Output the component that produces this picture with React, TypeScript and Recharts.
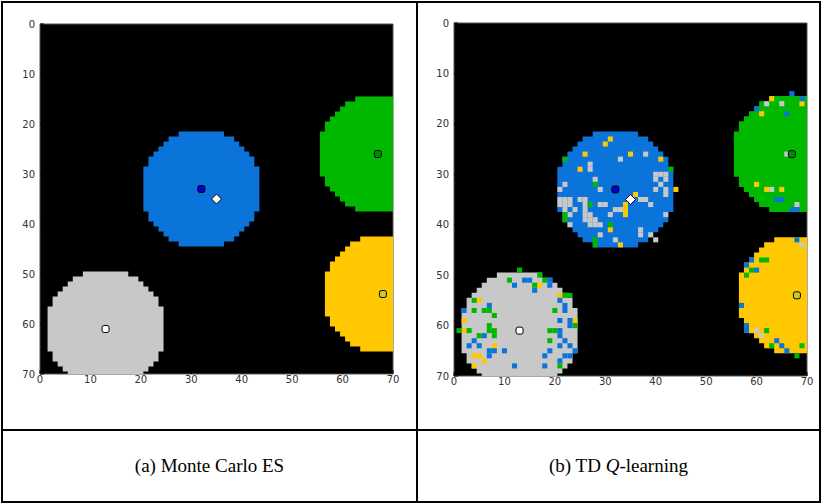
import React from 'react';
import { ScatterChart, Scatter, XAxis, YAxis, ReferenceArea } from 'recharts';

// axis ticks, shared by both panels
const TICKS = [0, 10, 20, 30, 40, 50, 60, 70];

// goal regions: centre cell and radius (grid units)
const REGIONS = [
  { name: 'blue', x: 32, y: 33 },
  { name: 'green', x: 67, y: 26 },
  { name: 'yellow', x: 68, y: 54 },
  { name: 'gray', x: 13, y: 61 },
];
const REGION_RADIUS = 11.8;

// goal markers and agent position
const GOALS = [
  { name: 'blue', x: 32, y: 33 },
  { name: 'green', x: 67, y: 26 },
  { name: 'yellow', x: 68, y: 54 },
  { name: 'gray', x: 13, y: 61 },
];
const AGENT = [{ x: 35, y: 35 }];

// TD Q-learning: misclassified cells, by the colour they got
const NOISE_GRAY = [
  [33, 27], [38, 26], [27, 28], [27, 29], [28, 31], [29, 33], [40, 30], [41, 30], [42, 30], [40, 31],
  [42, 31], [41, 32], [40, 33], [42, 33], [42, 34], [22, 32], [21, 33], [21, 35], [22, 35], [23, 35],
  [25, 35], [26, 35], [21, 36], [22, 36], [23, 36], [26, 36], [29, 36], [30, 36], [22, 37], [24, 37],
  [26, 37], [23, 38], [26, 38], [27, 38], [26, 39], [27, 39], [28, 39], [23, 40], [27, 40], [28, 40],
  [29, 40], [37, 35], [38, 35], [39, 36], [31, 38], [32, 37], [33, 37], [42, 38], [29, 42], [37, 41],
  [37, 42], [39, 42], [40, 43], [32, 43],
  [62, 16], [65, 16], [66, 26], [63, 33], [68, 36],
  [69, 44], [60, 61], [61, 62],
];
const NOISE_YELLOW = [
  [31, 23], [30, 24], [26, 26], [35, 26], [41, 27], [25, 29], [44, 33], [36, 34], [34, 36], [34, 37],
  [34, 38], [31, 41], [33, 44],
  [63, 15], [69, 16], [61, 18], [60, 32], [62, 33], [65, 33],
  [17, 52], [21, 54], [24, 59], [5, 55], [2, 59], [2, 61], [4, 66], [5, 66], [6, 67], [4, 68], [8, 64],
];
const NOISE_GREEN = [
  [22, 27], [43, 29], [28, 32], [27, 36], [22, 39], [31, 40], [28, 43], [28, 44], [22, 38],
  [61, 47], [62, 47], [59, 49], [58, 50], [62, 61], [63, 64], [68, 66], [69, 64],
  [13, 49], [11, 51], [16, 52], [18, 51], [22, 54], [23, 54], [20, 57], [19, 61], [20, 61], [24, 60],
  [19, 63], [21, 68], [4, 55], [6, 57], [7, 57], [8, 58], [4, 57], [1, 61], [3, 61], [7, 60], [7, 61],
  [8, 62], [8, 61], [5, 62], [17, 50],
];
const NOISE_BLUE = [
  [67, 14], [60, 17], [69, 15], [66, 18], [64, 35], [65, 35], [67, 37], [68, 37],
  [59, 47], [58, 48], [60, 49], [68, 43], [57, 56], [58, 60], [58, 61], [64, 63], [65, 64], [66, 65],
  [12, 52], [14, 51], [15, 51], [16, 53], [19, 51], [19, 52], [21, 55], [22, 56], [22, 57], [23, 59],
  [21, 59], [21, 61], [23, 60], [21, 62], [22, 63], [21, 64], [23, 64], [22, 66], [23, 66], [24, 65],
  [18, 66], [19, 65], [18, 68], [21, 67], [7, 56], [2, 57], [6, 62], [4, 63], [3, 64], [5, 64],
  [7, 65], [8, 65], [10, 65], [7, 66], [12, 68],
];

const COLORS: Record<string, string> = {
  blue: '#0a74da',
  green: '#00b800',
  yellow: '#ffc800',
  gray: '#c8c8c8',
};
const GOAL_COLORS: Record<string, string> = {
  blue: '#0000d0',
  green: '#008c00',
  yellow: '#c8c832',
  gray: '#ffffff',
};

const toPts = (arr: number[][]) => arr.map(([x, y]) => ({ x, y }));

const BOX_W = 411;
const BOX_H = 420;

// stair-stepped disc outline, one cell per grid unit
const regionShape = (ux: number, uy: number) => (p: any) => {
  const n = Math.ceil(REGION_RADIUS);
  const rows: { dy: number; half: number }[] = [];
  for (let dy = -n; dy <= n; dy++) {
    const rem = REGION_RADIUS * REGION_RADIUS - dy * dy;
    if (rem < 0) continue;
    rows.push({ dy, half: Math.floor(Math.sqrt(rem)) });
  }
  const pts: string[] = [];
  rows.forEach(({ dy, half }) => {
    const x = p.cx + (half + 0.5) * ux;
    pts.push(`${x},${p.cy + (dy - 0.5) * uy}`, `${x},${p.cy + (dy + 0.5) * uy}`);
  });
  [...rows].reverse().forEach(({ dy, half }) => {
    const x = p.cx - (half + 0.5) * ux;
    pts.push(`${x},${p.cy + (dy + 0.5) * uy}`, `${x},${p.cy + (dy - 0.5) * uy}`);
  });
  return <path d={`M${pts.join('L')}Z`} fill={COLORS[p.payload.name]} />;
};

const cellShape = (ux: number, uy: number, color: string) => (p: any) => (
  <rect x={p.cx - ux / 2} y={p.cy - uy / 2} width={ux} height={uy} fill={color} />
);

const goalShape = (p: any) => (
  <rect
    x={p.cx - 3.5}
    y={p.cy - 3.5}
    width={7}
    height={7}
    rx={2}
    fill={GOAL_COLORS[p.payload.name]}
    stroke="#000"
    strokeWidth={1}
  />
);

const agentShape = (p: any) => (
  <path
    d={`M${p.cx},${p.cy - 5}L${p.cx + 5},${p.cy}L${p.cx},${p.cy + 5}L${p.cx - 5},${p.cy}Z`}
    fill="#fff"
    stroke="#000"
    strokeWidth={1}
  />
);

const tickStyle = { fill: '#333', fontSize: 10, fontFamily: 'DejaVu Sans' };

interface PanelProps {
  left: number;
  x0: number;
  y0: number;
  w: number;
  h: number;
  noisy: boolean;
}

const Panel = ({ left, x0, y0, w, h, noisy }: PanelProps) => {
  const ux = w / 70;
  const uy = h / 70;
  return (
    <div style={{ position: 'absolute', left, top: 0 }}>
      <ScatterChart
        width={BOX_W}
        height={BOX_H}
        margin={{ top: y0, right: BOX_W - x0 - w, bottom: 0, left: 0 }}
      >
        <ReferenceArea
          xAxisId="m"
          yAxisId="m"
          x1={0}
          x2={70}
          y1={0}
          y2={70}
          fill="#000"
          fillOpacity={1}
          stroke="none"
        />
        <Scatter
          xAxisId="m"
          yAxisId="m"
          data={REGIONS}
          shape={regionShape(ux, uy)}
          isAnimationActive={false}
        />
        {noisy && (
          <Scatter xAxisId="m" yAxisId="m" data={toPts(NOISE_GRAY)} shape={cellShape(ux, uy, COLORS.gray)} isAnimationActive={false} />
        )}
        {noisy && (
          <Scatter xAxisId="m" yAxisId="m" data={toPts(NOISE_YELLOW)} shape={cellShape(ux, uy, COLORS.yellow)} isAnimationActive={false} />
        )}
        {noisy && (
          <Scatter xAxisId="m" yAxisId="m" data={toPts(NOISE_GREEN)} shape={cellShape(ux, uy, COLORS.green)} isAnimationActive={false} />
        )}
        {noisy && (
          <Scatter xAxisId="m" yAxisId="m" data={toPts(NOISE_BLUE)} shape={cellShape(ux, uy, COLORS.blue)} isAnimationActive={false} />
        )}
        <Scatter xAxisId="m" yAxisId="m" data={GOALS} shape={goalShape} isAnimationActive={false} />
        <Scatter xAxisId="m" yAxisId="m" data={AGENT} shape={agentShape} isAnimationActive={false} />
        <ReferenceArea
          xAxisId="m"
          yAxisId="m"
          x1={0}
          x2={70}
          y1={0}
          y2={70}
          fill="none"
          stroke="#555"
          strokeWidth={1}
        />
        <XAxis
          xAxisId="m"
          dataKey="x"
          type="number"
          domain={[0, 70]}
          ticks={TICKS}
          allowDataOverflow
          height={BOX_H - y0 - h}
          axisLine={false}
          tickLine={{ stroke: '#000' }}
          tickSize={-4}
          tickMargin={6}
          tick={tickStyle}
        />
        <YAxis
          yAxisId="m"
          dataKey="y"
          type="number"
          domain={[0, 70]}
          ticks={TICKS}
          reversed
          allowDataOverflow
          width={x0}
          axisLine={false}
          tickLine={{ stroke: '#000' }}
          tickSize={-4}
          tickMargin={9}
          tick={tickStyle}
        />
        <YAxis
          yAxisId="r"
          orientation="right"
          type="number"
          domain={[0, 70]}
          ticks={TICKS}
          reversed
          width={0}
          axisLine={false}
          tickLine={{ stroke: '#000' }}
          tickSize={-4}
          tick={false}
        />
      </ScatterChart>
    </div>
  );
};

const lineStyle = (s: React.CSSProperties): React.CSSProperties => ({
  position: 'absolute',
  background: '#000',
  ...s,
});

const captionStyle: React.CSSProperties = {
  position: 'absolute',
  top: 431,
  height: 70,
  display: 'flex',
  alignItems: 'center',
  justifyContent: 'center',
  fontFamily: '"Liberation Serif", serif',
  fontSize: 19,
  color: '#000',
};

export default function App() {
  return (
    <div style={{ position: 'absolute', left: 0, top: 0, width: 822, height: 504, background: '#fff' }}>
      <Panel left={0} x0={40} y0={24} w={353} h={350} noisy={false} />
      <Panel left={411} x0={43} y0={23} w={353} h={353} noisy />
      <div style={lineStyle({ left: 1, top: 1, width: 820, height: 2 })} />
      <div style={lineStyle({ left: 1, top: 501, width: 820, height: 2 })} />
      <div style={lineStyle({ left: 1, top: 1, width: 2, height: 502 })} />
      <div style={lineStyle({ left: 819, top: 1, width: 2, height: 502 })} />
      <div style={lineStyle({ left: 416, top: 1, width: 2, height: 502 })} />
      <div style={lineStyle({ left: 1, top: 429, width: 820, height: 2 })} />
      <div style={{ ...captionStyle, left: 3, width: 413 }}>(a) Monte Carlo ES</div>
      <div style={{ ...captionStyle, left: 418, width: 401 }}>
        <span>
          (b) TD <i>Q</i>-learning
        </span>
      </div>
    </div>
  );
}
